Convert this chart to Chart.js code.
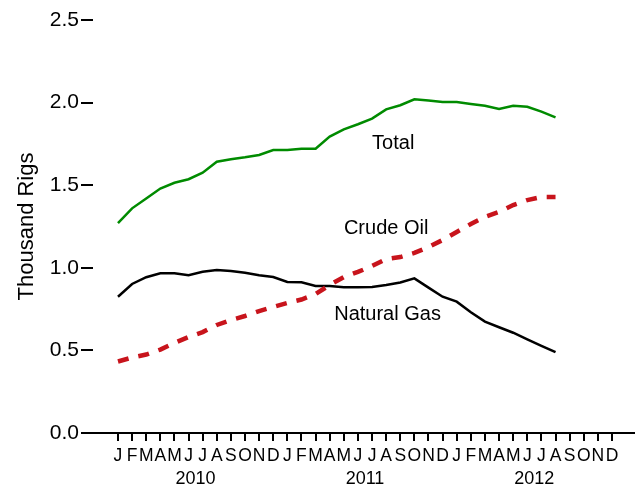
<!DOCTYPE html>
<html>
<head>
<meta charset="utf-8">
<script src="https://cdn.jsdelivr.net/npm/chart.js@4.4.1/dist/chart.umd.min.js"></script>
<style>
  html, body { margin: 0; padding: 0; background: #fff; }
  #wrap { width: 639px; height: 489px; }
</style>
</head>
<body>
<div id="wrap"><canvas id="rigChart" width="639" height="489"></canvas></div>
<script>
// monthly, Jan 2010 .. Aug 2012 (thousand rigs)
const monthLetters = ['J', 'F', 'M', 'A', 'M', 'J', 'J', 'A', 'S', 'O', 'N', 'D'];
const years = ['2010', '2011', '2012'];
const yTicks = [0, 0.5, 1.0, 1.5, 2.0, 2.5];

const totalRigs = [1.27, 1.36, 1.42, 1.48, 1.515, 1.536, 1.576, 1.642, 1.657, 1.669, 1.683, 1.713,
                   1.713, 1.721, 1.721, 1.794, 1.838, 1.869, 1.903, 1.959, 1.984, 2.02, 2.012, 2.004,
                   2.004, 1.992, 1.981, 1.961, 1.981, 1.975, 1.945, 1.911];
const gasRigs = [0.825, 0.902, 0.943, 0.967, 0.967, 0.955, 0.976, 0.987, 0.981, 0.970, 0.955, 0.944,
                 0.914, 0.912, 0.890, 0.890, 0.882, 0.882, 0.884, 0.896, 0.911, 0.936, 0.880, 0.825,
                 0.795, 0.731, 0.674, 0.640, 0.607, 0.567, 0.528, 0.490];
const oilRigs = [0.433, 0.457, 0.475, 0.505, 0.545, 0.581, 0.611, 0.654, 0.684, 0.708, 0.738, 0.763,
                 0.787, 0.808, 0.841, 0.896, 0.944, 0.975, 1.011, 1.053, 1.065, 1.090, 1.126, 1.168,
                 1.217, 1.265, 1.308, 1.338, 1.380, 1.410, 1.429, 1.429];

const seriesNames = ['Total', 'Crude Oil', 'Natural Gas'];

const FONT = "'Liberation Sans', Arial, sans-serif";

function toPoints(arr) {
    return arr.map((v, i) => ({ x: i, y: v }));
}

// text labels next to the lines, placed in data units
const lineLabels = {
    id: 'lineLabels',
    afterDatasetsDraw(chart) {
        const ctx = chart.ctx;
        const xs = chart.scales.x, ys = chart.scales.y;
        const spots = [[19.5, 1.755], [19.0, 1.235], [19.1, 0.72]];
        ctx.save();
        ctx.font = '20px ' + FONT;
        ctx.fillStyle = '#000';
        ctx.textAlign = 'center';
        ctx.textBaseline = 'middle';
        seriesNames.forEach((name, i) => {
            ctx.fillText(name, xs.getPixelForValue(spots[i][0]), ys.getPixelForValue(spots[i][1]));
        });
        ctx.restore();
    }
};

const xMin = -1.77, xMax = 36.56;

new Chart(document.getElementById('rigChart'), {
    type: 'line',
    data: {
        datasets: [{
            label: 'Crude Oil',
            data: toPoints(oilRigs),
            borderColor: '#c8141c',
            borderWidth: 4.5,
            borderDash: [11, 10],
            borderCapStyle: 'butt',
            pointRadius: 0,
            tension: 0,
            fill: false
        }, {
            label: 'Natural Gas',
            data: toPoints(gasRigs),
            borderColor: '#000000',
            borderWidth: 2.5,
            pointRadius: 0,
            tension: 0,
            fill: false
        }, {
            label: 'Total',
            data: toPoints(totalRigs),
            borderColor: '#008b00',
            borderWidth: 2.5,
            pointRadius: 0,
            tension: 0,
            fill: false
        }]
    },
    options: {
        responsive: false,
        animation: false,
        layout: { padding: { top: 20, right: 5, left: 10, bottom: 0 } },
        plugins: {
            legend: { display: false },
            tooltip: { enabled: false }
        },
        scales: {
            x: {
                type: 'linear',
                min: xMin,
                max: xMax,
                afterBuildTicks: s => { s.ticks = Array.from({ length: 36 }, (_, i) => ({ value: i })); },
                afterFit: s => { s.height = 35; },
                grid: { drawOnChartArea: false, drawTicks: true, tickLength: 8, color: '#000', lineWidth: 2 },
                border: { display: true, color: '#000', width: 2 },
                ticks: {
                    autoSkip: false,
                    maxRotation: 0,
                    padding: 5,
                    color: '#000',
                    font: { family: FONT, size: 17.5 },
                    callback: v => monthLetters[v % 12]
                }
            },
            x2: {
                type: 'linear',
                position: 'bottom',
                min: xMin,
                max: xMax,
                afterBuildTicks: s => { s.ticks = years.map((y, i) => ({ value: 5.5 + 12 * i })); },
                afterFit: s => { s.height = 21; },
                grid: { display: false, drawTicks: false },
                border: { display: false },
                ticks: {
                    autoSkip: false,
                    maxRotation: 0,
                    padding: 0,
                    color: '#000',
                    font: { family: FONT, size: 18 },
                    callback: v => years[Math.round((v - 5.5) / 12)]
                }
            },
            y: {
                min: 0,
                max: 2.5,
                afterBuildTicks: s => { s.ticks = yTicks.map(v => ({ value: v })); },
                afterFit: s => { s.width = 83; },
                grid: { drawOnChartArea: false, drawTicks: true, tickLength: 12, color: '#000', lineWidth: 2 },
                border: { display: false },
                ticks: {
                    padding: 2,
                    color: '#000',
                    font: { family: FONT, size: 21 },
                    callback: v => v.toFixed(1)
                },
                title: {
                    display: true,
                    text: 'Thousand Rigs',
                    color: '#000',
                    font: { family: FONT, size: 22 },
                    padding: { top: 4, bottom: 0 }
                }
            }
        }
    },
    plugins: [lineLabels]
});
</script>
</body>
</html>
